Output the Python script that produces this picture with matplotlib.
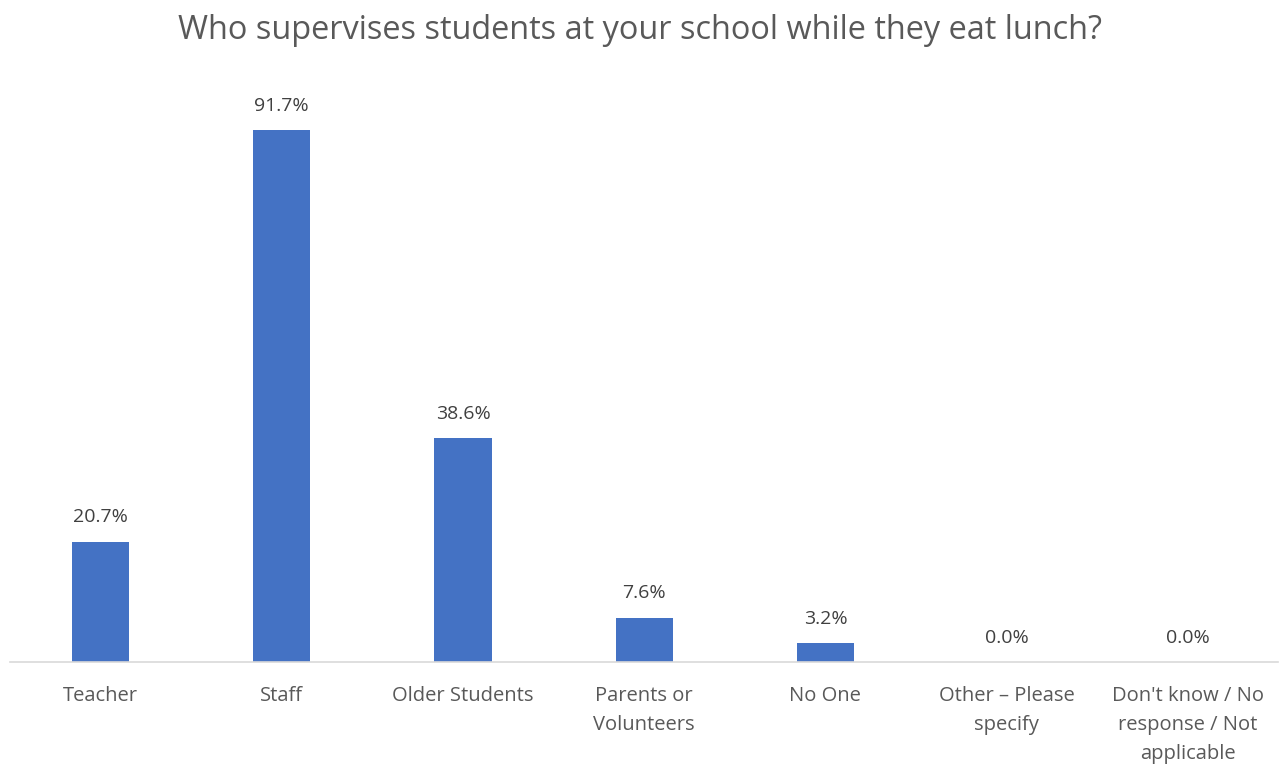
import matplotlib
matplotlib.use("Agg")
import matplotlib.pyplot as plt

categories = ["Teacher", "Staff", "Older Students", "Parents or\nVolunteers", "No One",
              "Other – Please\nspecify", "Don't know / No\nresponse / Not\napplicable"]
values = [20.7, 91.7, 38.6, 7.6, 3.2, 0.0, 0.0]
labels = [f"{v:.1f}%" for v in values]

plt.rcParams['font.family'] = ['Open Sans', 'DejaVu Sans']

fig = plt.figure(figsize=(12.81, 7.64), dpi=100)
ax = fig.add_axes([0.0078, 0.1335, 0.9902, 0.7592])
x = list(range(len(categories)))
bars = ax.bar(x, values, width=0.315, color="#4472C4", zorder=2)
ax.set_xlim(-0.5, len(categories) - 0.5)
ax.set_ylim(0, 100)
for xi, v, lab in zip(x, values, labels):
    ax.annotate(lab, (xi, v), xytext=(0, 14), textcoords="offset points",
                ha="center", va="baseline", fontsize=14, color="#404040")
ax.set_xticks(x)
ax.set_xticklabels(categories, fontsize=14.5, color="#595959", linespacing=1.6, va="top")
ax.tick_params(axis="x", length=0, pad=17)
ax.set_yticks([])
for s in ["top", "left", "right"]:
    ax.spines[s].set_visible(False)
ax.spines["bottom"].set_color("#D9D9D9")
ax.spines["bottom"].set_linewidth(1.2)
fig.text(0.5, 0.96, "Who supervises students at your school while they eat lunch?",
         ha="center", va="center", fontsize=23.4, color="#595959")
fig.savefig("out.png", dpi=100)
